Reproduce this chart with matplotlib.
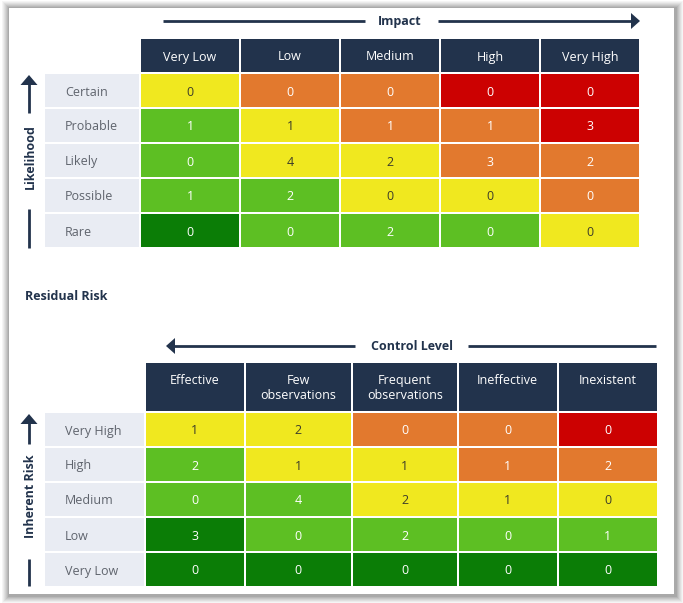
import matplotlib.pyplot as plt
from matplotlib.patches import Rectangle, Polygon

plt.rcParams['font.family'] = ['Open Sans', 'DejaVu Sans']

# residual risk: likelihood x impact
impact_labels = ['Very Low', 'Low', 'Medium', 'High', 'Very High']
likelihood_labels = ['Certain', 'Probable', 'Likely', 'Possible', 'Rare']
residual_counts = [
    [0, 0, 0, 0, 0],
    [1, 1, 1, 1, 3],
    [0, 4, 2, 3, 2],
    [1, 2, 0, 0, 0],
    [0, 0, 2, 0, 0],
]
# 0 = very low (dark green) ... 4 = very high (red)
residual_levels = [
    [2, 3, 3, 4, 4],
    [1, 2, 3, 3, 4],
    [1, 2, 2, 3, 3],
    [1, 1, 2, 2, 3],
    [0, 1, 1, 1, 2],
]

# inherent risk x control level
control_labels = ['Effective', 'Few\nobservations', 'Frequent\nobservations', 'Ineffective', 'Inexistent']
inherent_labels = ['Very High', 'High', 'Medium', 'Low', 'Very Low']
inherent_counts = [
    [1, 2, 0, 0, 0],
    [2, 1, 1, 1, 2],
    [0, 4, 2, 1, 0],
    [3, 0, 2, 0, 1],
    [0, 0, 0, 0, 0],
]
inherent_levels = [
    [2, 2, 3, 3, 4],
    [1, 2, 2, 3, 3],
    [1, 1, 2, 2, 2],
    [0, 1, 1, 1, 1],
    [0, 0, 0, 0, 0],
]

level_colors = ['#0b7d06', '#5dbf23', '#f0e81f', '#e2792e', '#cc0101']
navy = '#22334c'
label_bg = '#e9ecf3'
label_fg = '#5f646d'
dy = 1.5  # nudge text down to sit visually centred


def draw_matrix(ax, col_labels, row_labels, counts, levels, col_edges,
                head_top, head_h, row_top, row_h=33, step=35, label_x=45):
    # header
    for j, lab in enumerate(col_labels):
        x0, x1 = col_edges[j]
        ax.add_patch(Rectangle((x0, head_top), x1 - x0, head_h, color=navy, lw=0))
        if head_h > 40:
            ax.text((x0 + x1) / 2, head_top + 11, lab, ha='center', va='top',
                    color='white', fontsize=9, linespacing=1.2)
        else:
            ax.text((x0 + x1) / 2, head_top + head_h / 2 + dy, lab, ha='center',
                    va='center', color='white', fontsize=9)
    # rows
    label_w = col_edges[0][0] - 2 - label_x
    for i, lab in enumerate(row_labels):
        y0 = row_top + i * step
        ax.add_patch(Rectangle((label_x, y0), label_w, row_h, color=label_bg, lw=0))
        ax.text(label_x + 20, y0 + row_h / 2 + dy, lab, ha='left', va='center',
                color=label_fg, fontsize=9)
        for j in range(len(col_labels)):
            x0, x1 = col_edges[j]
            lvl = levels[i][j]
            ax.add_patch(Rectangle((x0, y0), x1 - x0, row_h,
                                   color=level_colors[lvl], lw=0))
            fg = '#3d3d2a' if lvl == 2 else 'white'
            ax.text((x0 + x1) / 2, y0 + row_h / 2 + dy, str(counts[i][j]),
                    ha='center', va='center', color=fg, fontsize=9)


def h_arrow(ax, y, x_start, x_end, text_x, text, gap0, gap1, head_right=True):
    ax.plot([x_start, gap0], [y, y], color=navy, lw=2, solid_capstyle='butt')
    ax.plot([gap1, x_end], [y, y], color=navy, lw=2, solid_capstyle='butt')
    ax.text(text_x, y + 1, text, ha='center', va='center', color=navy,
            fontsize=9, fontweight='bold')
    if head_right:
        ax.add_patch(Polygon([[x_end - 1, y - 8], [x_end + 8, y], [x_end - 1, y + 8]],
                             closed=True, color=navy, lw=0))
    else:
        ax.add_patch(Polygon([[x_start + 1, y - 8], [x_start - 8, y], [x_start + 1, y + 8]],
                             closed=True, color=navy, lw=0))


def v_arrow(ax, x, head_top, line_end, text_y, text, low0, low1):
    ax.add_patch(Polygon([[x - 8.5, head_top + 10], [x, head_top], [x + 8.5, head_top + 10]],
                         closed=True, color=navy, lw=0))
    ax.plot([x, x], [head_top + 9, line_end], color=navy, lw=2, solid_capstyle='butt')
    ax.text(x + 1, text_y, text, ha='center', va='center', rotation=90,
            color=navy, fontsize=9, fontweight='bold')
    ax.plot([x, x], [low0, low1], color=navy, lw=2, solid_capstyle='butt')


fig = plt.figure(figsize=(6.83, 6.03), dpi=100)
ax = fig.add_axes([0, 0, 1, 1])
ax.set_xlim(0, 683)
ax.set_ylim(603, 0)
ax.axis('off')

# card with soft shadow
for k, a in enumerate([0.04, 0.04, 0.05, 0.05, 0.06, 0.07, 0.08]):
    pad = 7 - k
    ax.add_patch(Rectangle((9 - pad, 8 - pad), 665 + 2 * pad + 2, 586 + 2 * pad + 2,
                           color='black', alpha=a, lw=0))
ax.add_patch(Rectangle((9, 8), 665, 586, color='white', lw=0))

# top matrix
top_cols = [(141 + 100 * j, 239 + 100 * j) for j in range(5)]
draw_matrix(ax, impact_labels, likelihood_labels, residual_counts, residual_levels,
            top_cols, head_top=39, head_h=33, row_top=74)
h_arrow(ax, 21, 163, 632, 400, 'Impact', 365, 438, head_right=True)
v_arrow(ax, 29, 75, 113, 157, 'Likelihood', 209, 248)

ax.text(25, 297, 'Residual Risk', ha='left', va='center', color=navy,
        fontsize=9, fontweight='bold')

# bottom matrix
bot_cols = [(146, 243.5), (246, 350.5), (353, 456.5), (459, 556.5), (559, 656.5)]
draw_matrix(ax, control_labels, inherent_labels, inherent_counts, inherent_levels,
            bot_cols, head_top=363, head_h=48, row_top=413)
h_arrow(ax, 346, 174, 656, 412, 'Control Level', 355, 468, head_right=False)
v_arrow(ax, 29, 414, 444, 496, 'Inherent Risk', 559, 586)

fig.savefig('out.png', dpi=100, facecolor='white')
